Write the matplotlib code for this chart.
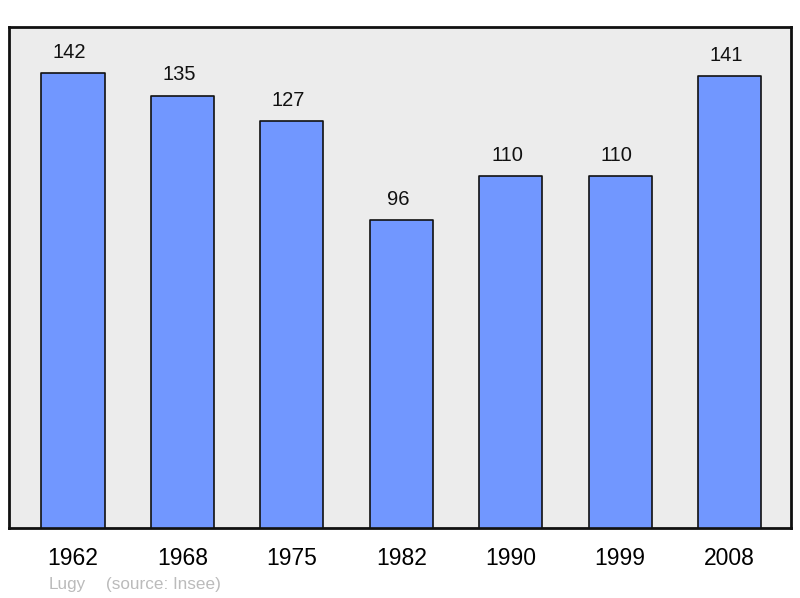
import matplotlib
matplotlib.use("Agg")
import matplotlib.pyplot as plt

years = ["1962", "1968", "1975", "1982", "1990", "1999", "2008"]
population = [142, 135, 127, 96, 110, 110, 141]
commune = "Lugy"
source = "(source: Insee)"

plt.rcParams['font.family'] = ['Liberation Sans', 'DejaVu Sans']

fig = plt.figure(figsize=(8, 5.98), dpi=100)
ax = fig.add_axes([9/800, 1 - 528/598, 782/800, 501/598])
ax.set_facecolor('#ececec')

x = list(range(len(years)))
bars = ax.bar(x, population, width=0.576, color='#7197ff', edgecolor='#111111',
              linewidth=1.2, zorder=3)
for b in bars:
    b.set_joinstyle('round')

for xi, v in zip(x, population):
    ax.annotate(str(v), (xi, v), xytext=(-2.5, 8), textcoords='offset points',
                ha='center', va='bottom', fontsize=14.5, color='#111111')

ax.set_xlim(-0.585, 6.562)
ax.set_ylim(0, 156.4)
ax.set_xticks(x)
ax.set_xticklabels(years, fontsize=16.5)
ax.tick_params(axis='x', length=0, pad=14)
ax.set_yticks([])
for s in ax.spines.values():
    s.set_linewidth(2)
    s.set_color('#111111')
    s.set_joinstyle('round')

fig.text(49/800, 1 - 584/598, commune, fontsize=12.3, color='#bbbbbb', va='center')
fig.text(106/800, 1 - 584/598, source, fontsize=12.3, color='#bbbbbb', va='center')

fig.savefig('out.png', dpi=100)
